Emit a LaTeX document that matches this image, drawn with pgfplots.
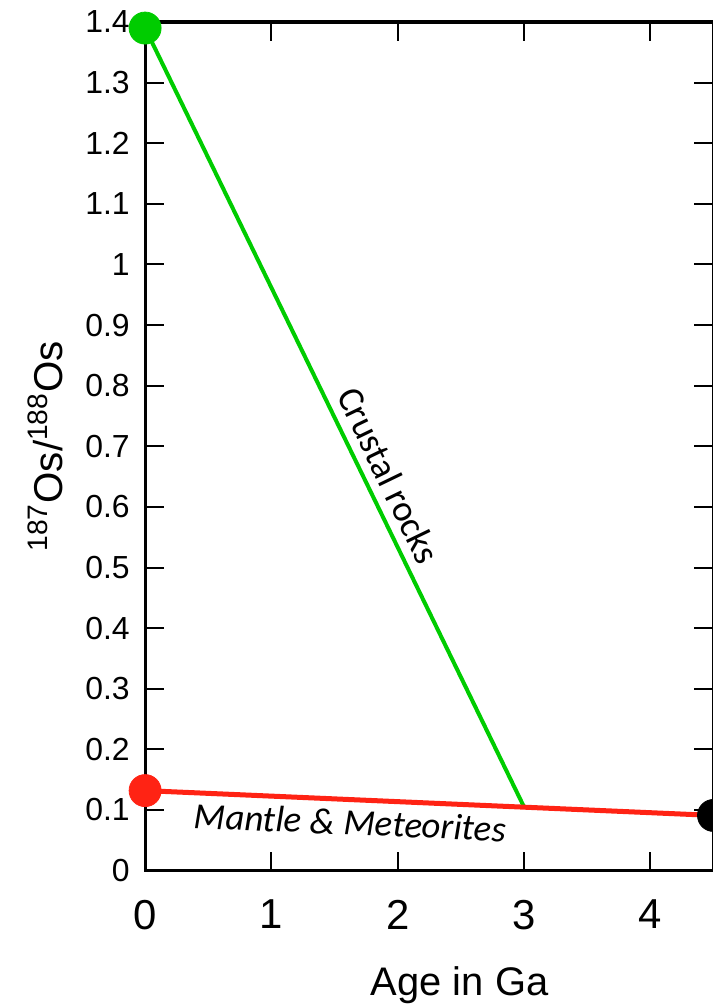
\documentclass[border=0pt]{standalone}
\usepackage{pgfplots}
\pgfplotsset{compat=1.18}
\usepackage{fontspec}
\setmainfont{Liberation Sans}
\newfontfamily\calibri{Carlito}
\definecolor{cgreen}{RGB}{0,204,0}
\definecolor{cred}{RGB}{255,35,20}
\begin{document}
\begin{tikzpicture}[trim right=(trimpt)]
\begin{axis}[
  scale only axis, width=284bp, height=424bp,
  xmin=0, xmax=4.5, ymin=0, ymax=1.4,
  clip=false,
  tick align=inside,
  xtick={0,1,2,3,4},
  ytick={0,0.1,0.2,0.3,0.4,0.5,0.6,0.7,0.8,0.9,1,1.1,1.2,1.3,1.4},
  major tick length=9.5bp,
  tick style={line width=1bp,black},
  axis line style={line width=1.5bp},
  /pgf/number format/assume math mode=true,
  xticklabel style={font=\fontsize{21}{25}\selectfont, inner sep=0pt, yshift=-14.5bp},
  yticklabel style={font=\fontsize{16}{19}\selectfont, inner sep=0pt, xshift=-7.5bp},
  xlabel={Age in Ga},
  ylabel={\textsuperscript{187}Os/\textsuperscript{188}Os},
  xlabel style={font=\fontsize{20}{24}\selectfont, at={(axis cs:2.49,-0.2064)}, anchor=base, inner sep=0pt},
  ylabel style={font=\fontsize{20.2}{24}\selectfont, at={(axis description cs:-0.1444,0.5)}, anchor=south, inner sep=0pt},
]
\addplot[cgreen, line width=2bp] coordinates {(0,1.39) (3,0.105)};
\addplot[cred, line width=2.5bp] coordinates {(0,0.132) (4.5,0.091)};
\addplot[only marks, mark=*, mark size=8bp, color=cgreen, mark options={draw=cgreen, fill=cgreen}] coordinates {(0,1.39)};
\addplot[only marks, mark=*, mark size=8bp, color=cred, mark options={draw=cred, fill=cred}] coordinates {(0,0.132)};
\addplot[only marks, mark=*, mark size=8bp, color=black, mark options={draw=black, fill=black}] coordinates {(4.5,0.091)};
\node[font=\calibri\fontsize{18.5}{22}\selectfont, rotate=-64.2] at (axis cs:1.93,0.652) {Crustal rocks};
\node[font=\calibri\itshape\fontsize{18.5}{22}\selectfont, rotate=-2.5, anchor=base] at (axis cs:1.62,0.059) {Mantle \& Meteorites};
\coordinate (trimpt) at (axis cs:4.49,0);
\end{axis}
\path ([yshift=11bp]current axis.north west) ([xshift=-72.5bp]current axis.south west);
\end{tikzpicture}
\end{document}
